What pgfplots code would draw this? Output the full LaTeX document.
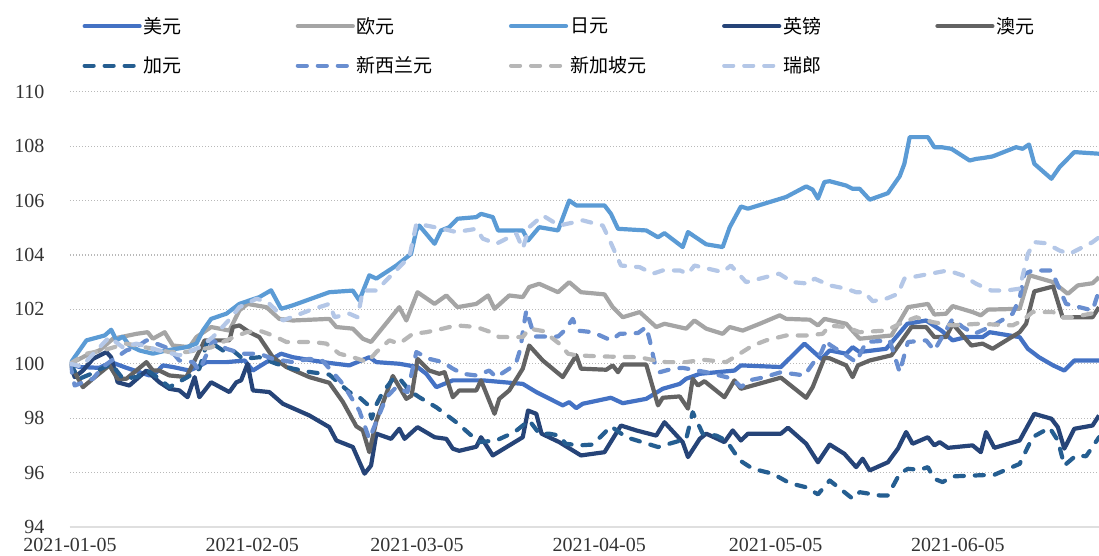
\documentclass[border=0pt]{standalone}
\usepackage{fontspec}
\setmainfont{Liberation Serif}
\newfontfamily\cjk{Noto Sans CJK SC}
\usepackage{pgfplots}
\pgfplotsset{compat=1.18}
\definecolor{cUSD}{HTML}{4472C4}
\definecolor{cEUR}{HTML}{A5A5A5}
\definecolor{cJPY}{HTML}{5B9BD5}
\definecolor{cGBP}{HTML}{264478}
\definecolor{cAUD}{HTML}{636363}
\definecolor{cCAD}{HTML}{255E91}
\definecolor{cNZD}{HTML}{698ED0}
\definecolor{cSGD}{HTML}{B7B7B7}
\definecolor{cCHF}{HTML}{B4C7E7}
\begin{document}
\begin{tikzpicture}
\begin{axis}[
 scale only axis, width=1029pt, height=435.3pt,
 xmin=0, xmax=175, ymin=94, ymax=110,
 ytick={94,96,...,110},
 xtick={0,31,59,90,120,151},
 xticklabels={2021-01-05,2021-02-05,2021-03-05,2021-04-05,2021-05-05,2021-06-05},
 axis line style={draw=none},
 major tick length=0pt,
 ymajorgrids,
 grid style={gray!55, line width=1.2pt, dash pattern=on 1.2pt off 1.8pt},
 extra y ticks={94}, extra y tick labels={},
 extra y tick style={grid style={solid, draw=gray!25, line width=2pt}},
 tick label style={font=\fontsize{20}{24}\selectfont, text=black!80},
 /pgf/number format/assume math mode=true,
 yticklabel shift=22pt,
 xticklabel shift=8pt,
 legend columns=5,
 legend style={draw=none, fill=none, at={(rel axis cs:0.012,1.176)}, anchor=north west, font=\cjk\fontsize{19}{22}\selectfont, column sep=0pt, row sep=18pt, inner sep=0pt},
 legend cell align=left,
 legend image code/.code={\draw[#1, line cap=round] (0pt,0pt) -- (55pt,0pt);},
 every axis plot/.append style={line width=4.2pt, line join=round},
 clip=true,
]
\addplot[cUSD] coordinates {(0,100)(1.6,99.88)(5,99.85)(7,100.06)(9.6,99.85)(11.8,99.69)(13.5,99.57)(14.7,99.69)(15.8,99.94)(17.5,99.88)(20.3,99.75)(21.7,99.88)(23.2,100.06)(26.6,100.06)(29.7,100.12)(31.1,99.75)(33.4,100.06)(35.9,100.37)(37.9,100.24)(41.3,100.12)(44.1,100.03)(47.5,99.94)(50.9,100.24)(52.1,100.06)(56,100.0)(59.1,99.88)(60.6,99.63)(62.3,99.14)(65.1,99.39)(70.2,99.39)(77,99.26)(79.3,98.96)(83.8,98.47)(84.9,98.59)(86.1,98.37)(87.2,98.53)(92,98.75)(94,98.55)(98,98.71)(100.8,99.08)(103.7,99.26)(104.8,99.45)(107.1,99.63)(113,99.75)(114.1,99.94)(120.9,99.88)(124.9,100.74)(127.8,100.18)(129.2,100.49)(132,100.37)(133.1,100.61)(134.3,100.43)(138.8,100.55)(140.5,100.98)(142.4,101.47)(145.6,101.59)(148.2,101.22)(150.1,100.86)(152.4,100.98)(155.2,100.98)(156.4,101.16)(161.5,100.98)(162.9,100.55)(164.8,100.24)(167.2,99.94)(169.1,99.75)(170.8,100.12)(175,100.12)};
\addlegendentry{\makebox[150pt][l]{美元}}
\addplot[cEUR] coordinates {(0,100)(2.8,100.31)(5,100.49)(7.3,100.92)(11.3,101.1)(13.2,101.16)(14.1,100.92)(16.1,101.16)(17.5,100.67)(20.3,100.61)(21.5,100.98)(24,101.35)(27.1,101.22)(28.8,101.96)(30.2,102.2)(33.4,102.08)(35.6,101.65)(37.9,101.59)(44.1,101.65)(45.3,101.35)(48.1,101.29)(49.8,100.92)(51.2,100.8)(56,102.08)(57.2,101.59)(59.1,102.63)(62,102.2)(64,102.51)(65.9,102.08)(69.1,102.2)(71.1,102.51)(72.2,102.02)(74.7,102.51)(77,102.45)(78.1,102.82)(79.8,102.94)(83,102.63)(84.9,103.0)(86.9,102.63)(90.9,102.55)(92.3,102.08)(94,101.71)(96.9,101.9)(99.7,101.35)(101.1,101.47)(104.8,101.29)(106.2,101.59)(108.2,101.29)(111,101.1)(112.2,101.35)(114.4,101.22)(117.3,101.47)(120.7,101.78)(121.8,101.65)(125.8,101.62)(127.2,101.41)(128.3,101.65)(132,101.47)(134.3,100.92)(139.7,101.04)(142.5,102.08)(145.9,102.2)(147,101.81)(149,101.84)(150.1,102.12)(153.5,101.9)(154.9,101.78)(156.1,101.99)(161.5,102.02)(163.2,103.25)(167.2,103.0)(169.7,102.57)(171.4,102.88)(173.9,102.96)(175,103.18)};
\addlegendentry{\makebox[150pt][l]{欧元}}
\addplot[cJPY] coordinates {(0,100)(2.8,100.86)(5.9,101.04)(7,101.25)(7.9,100.86)(9,101.0)(10.1,100.67)(11.8,100.49)(14.1,100.37)(16.4,100.49)(19.8,100.61)(21.5,100.74)(22.6,101.22)(24,101.65)(26.6,101.84)(28.8,102.2)(32.2,102.45)(34.2,102.7)(35.9,102.02)(37.8,102.14)(44.1,102.63)(48.1,102.69)(49.2,102.33)(50.9,103.25)(52.1,103.13)(55.5,103.61)(58,104.04)(58.9,104.9)(59.4,105.08)(62,104.41)(63.1,104.9)(64.5,105.02)(65.9,105.33)(69.1,105.39)(69.9,105.51)(71.9,105.39)(72.8,104.9)(77,104.9)(77.9,104.53)(79.8,105.02)(83,104.9)(84.9,106.0)(86.1,105.82)(90.9,105.82)(92,105.51)(93.2,104.96)(98,104.9)(100,104.65)(101.1,104.8)(104.2,104.29)(105.1,104.84)(108.2,104.39)(111,104.29)(112.2,105.02)(114.1,105.78)(115.3,105.7)(121.8,106.13)(125.2,106.52)(126.3,106.4)(127.2,106.07)(128.3,106.68)(129.2,106.71)(132,106.55)(133.1,106.43)(134.3,106.43)(136,106.03)(139.1,106.27)(141.1,106.89)(141.9,107.35)(142.8,108.33)(145.9,108.33)(147,107.96)(148.2,107.96)(149.9,107.9)(153,107.47)(154.1,107.53)(155.2,107.56)(156.9,107.62)(160.9,107.96)(162,107.9)(163.1,108.06)(164,107.35)(166.9,106.8)(168.3,107.23)(170.8,107.78)(175,107.72)};
\addlegendentry{\makebox[150pt][l]{日元}}
\addplot[cGBP] coordinates {(0,100)(0.8,99.51)(2.2,99.75)(3.9,100.18)(6.2,100.43)(7,100.24)(8.1,99.32)(10.1,99.2)(13,99.75)(15.2,99.32)(16.9,99.08)(18.6,99.02)(20,98.77)(21.2,99.51)(22,98.77)(24,99.32)(27.1,98.96)(28.3,99.32)(29.1,99.39)(30.2,100.0)(31.1,99.02)(33.9,98.96)(36.2,98.53)(40.7,98.1)(44.1,97.67)(45.3,97.18)(48.1,96.94)(50.1,95.96)(51.2,96.26)(52.1,97.43)(54.6,97.24)(56,97.61)(56.9,97.24)(59.1,97.67)(62,97.3)(64,97.24)(65.1,96.88)(66.2,96.8)(69.1,96.95)(69.9,97.3)(71.9,96.63)(77,97.3)(77.9,98.28)(79.3,98.16)(80.2,97.43)(83.2,97.12)(86.9,96.63)(90.9,96.75)(93.7,97.73)(96.3,97.55)(99.7,97.36)(101.1,97.85)(104.2,97.12)(105.1,96.57)(107.1,97.24)(108.2,97.43)(111.3,97.12)(112.7,97.55)(114.1,97.18)(115.3,97.43)(120.9,97.43)(122.1,97.65)(125.2,97.06)(127.2,96.38)(129.2,97.03)(131.7,96.69)(133.7,96.2)(134.8,96.51)(136,96.08)(139.1,96.38)(140.8,96.88)(142.2,97.49)(143.3,97.06)(145.9,97.3)(147,97.0)(147.9,97.12)(149.3,96.91)(153.5,97.0)(154.9,96.75)(155.8,97.49)(157.2,96.91)(161.5,97.18)(164,98.16)(166.9,97.98)(168,97.67)(169.1,96.88)(170.8,97.61)(173.9,97.73)(175,98.1)};
\addlegendentry{\makebox[150pt][l]{英镑}}
\addplot[cAUD] coordinates {(0,100)(2.2,99.14)(3.9,99.45)(6.7,99.94)(8.1,99.45)(9.6,99.45)(13,100.06)(14.1,99.75)(15.2,99.75)(16.9,99.57)(19.8,99.51)(22.9,100.86)(27.1,100.86)(27.7,101.35)(28.8,101.41)(30.5,101.16)(32.2,100.98)(34.5,100.24)(36.8,99.88)(40.7,99.51)(44.1,99.3)(46.4,98.6)(48.7,97.7)(49.8,97.55)(50.9,96.75)(52.1,97.9)(54.9,99.55)(57.2,98.71)(58.1,98.83)(59.1,100.18)(61.1,99.75)(62.8,99.63)(63.7,99.69)(65.1,98.77)(66.2,99.02)(69.1,99.02)(69.9,99.39)(72.2,98.16)(73,98.71)(74.7,99.02)(77,99.82)(78.1,100.67)(80.4,100.12)(83.8,99.51)(86.1,100.31)(86.9,99.82)(91.2,99.78)(92.3,99.94)(93.2,99.69)(94,99.97)(98,99.97)(100,98.47)(100.8,98.75)(103.7,98.8)(105.1,98.35)(105.9,99.45)(106.8,99.2)(107.9,99.36)(111.3,98.77)(113,99.39)(114.1,99.08)(120.9,99.49)(125.2,98.75)(126.3,99.14)(128.3,100.22)(129.2,100.2)(132,99.94)(133.1,99.51)(134,99.94)(136,100.12)(139.7,100.31)(143.1,101.35)(145.6,101.35)(147,100.98)(149,100.98)(150.1,101.47)(153.3,100.67)(155.2,100.74)(156.9,100.55)(161.5,101.16)(162.6,101.47)(164,102.66)(167.2,102.84)(168.8,101.71)(173.9,101.71)(175,102.08)};
\addlegendentry{\makebox[150pt][l]{澳元}}
\addplot[cCAD, dash pattern=on 9pt off 11pt, line cap=round] coordinates {(0,100)(1.6,99.45)(3.6,99.63)(7,100)(9,99.45)(11.3,99.51)(13.2,99.75)(15.2,99.45)(16.9,99.14)(20,99.51)(22,99.82)(23.4,100.86)(26,100.49)(27.7,100.49)(29.4,100.18)(32.2,100.24)(35.1,100)(37.9,99.82)(40.7,99.7)(44.1,99.6)(47.5,98.96)(49.2,98.77)(50.6,98.5)(51.3,97.98)(52.1,98.5)(53.2,98.96)(55.2,99.51)(56.3,99.39)(57.7,99.02)(59.4,98.77)(62.3,98.4)(65.7,97.85)(67.9,97.43)(69.6,97.12)(72.5,97.18)(75.6,97.49)(78.1,97.92)(79.8,97.43)(81.5,97.43)(83.2,97.36)(84.3,97.06)(86.6,97.0)(88.9,97.03)(92,97.7)(94.6,97.3)(100,96.94)(104.8,97.24)(105.9,98.22)(107.6,97.43)(109.9,97.36)(111.6,97.18)(113.9,96.45)(116.1,96.14)(119.5,95.96)(122.4,95.61)(125.2,95.46)(127.2,95.2)(129.2,95.71)(133.1,95.04)(134.3,95.28)(137.7,95.16)(139.1,95.16)(141.1,95.96)(142.5,96.14)(144.5,96.1)(145.9,96.2)(147,95.77)(148.4,95.65)(150.1,95.86)(154.6,95.9)(157.2,95.92)(161.5,96.32)(163.7,97.3)(166.6,97.65)(168,97.18)(169.1,96.26)(171.1,96.63)(172.8,96.6)(175,97.3)};
\addlegendentry{\makebox[150pt][l]{加元}}
\addplot[cNZD, dash pattern=on 9pt off 11pt, line cap=round] coordinates {(0,100)(0.8,99.2)(3.9,99.45)(5.6,99.88)(6.7,100.06)(9.6,100.49)(11.3,100.61)(13,100.86)(14.7,100.74)(16.9,100.55)(18.6,100.12)(20.9,100.06)(22,99.75)(24.3,100.86)(26.6,100.55)(29.4,100.37)(32.2,100.37)(34.5,100.18)(37.9,100.06)(40.7,100.18)(43,100.1)(46.4,99.26)(49.2,98.28)(50.9,97.24)(53.8,98.77)(55.5,99.14)(57.4,98.96)(58.9,100.43)(61.1,100.18)(63.4,100.06)(65.1,99.82)(66.8,99.63)(69.1,99.57)(71.3,99.75)(72.5,99.51)(74.7,99.82)(75.9,100.06)(76.6,100.55)(77,101.16)(77.6,101.96)(79,101.0)(83,101.0)(84.1,101.22)(85.5,101.65)(86.3,101.22)(88.9,101.16)(92,100.86)(93.5,101.1)(96.6,101.13)(98,101.35)(98.6,100.86)(99.4,100.06)(100.3,99.69)(102.5,99.82)(104.2,99.85)(108.2,99.69)(110.5,99.57)(112.7,99.45)(114.1,99.14)(115.5,99.39)(117.8,99.49)(120.9,99.69)(124.9,99.57)(126.3,100.0)(127.8,100.43)(128.6,100.86)(129.2,100.7)(132,100.31)(133.7,100.06)(135.4,100.8)(139.4,100.86)(141.1,99.69)(142.5,100.8)(145.6,100.86)(147,100.49)(150.1,101.65)(151.8,101.35)(153.8,101.1)(155.8,101.29)(157.5,101.47)(160.3,101.84)(161.5,102.4)(162.3,103.3)(163.7,103.43)(166.9,103.43)(169.4,102.2)(173.9,101.96)(175,102.69)};
\addlegendentry{\makebox[150pt][l]{新西兰元}}
\addplot[cSGD, dash pattern=on 9pt off 11pt, line cap=round] coordinates {(0,100)(2.8,100.37)(5.6,100.49)(9.6,100.74)(14.1,100.55)(16.9,100.43)(19.8,100.43)(24,100.6)(27,100.9)(30,101.16)(32.2,101.22)(34.5,101.04)(36.8,100.8)(41.3,100.8)(43.6,100.74)(45.8,100.37)(48.1,100.24)(50.6,100.06)(52.1,100.43)(54.3,100.86)(56,100.74)(58.3,101.1)(60.6,101.16)(63.4,101.29)(65.7,101.41)(69.1,101.35)(71.6,101.16)(73,100.98)(77,100.98)(78.1,101.29)(80.5,101.2)(83.2,100.74)(84.7,100.37)(86.1,100.31)(90.1,100.27)(96.9,100.24)(99.4,100.12)(101.4,100.06)(104.8,100.06)(107.6,100.15)(111.6,100.06)(113.9,100.37)(116.1,100.67)(118.4,100.86)(121.8,101.04)(125.2,101.04)(128,101.1)(129.2,101.4)(132,101.35)(134.3,101.16)(138.8,101.22)(141.1,101.47)(143.9,101.71)(146.7,101.53)(150.1,101.41)(154.6,101.47)(160.3,101.41)(162,101.59)(163.7,101.9)(167.2,101.9)(168.3,101.71)(170.5,101.71)(175,101.9)};
\addlegendentry{\makebox[150pt][l]{新加坡元}}
\addplot[cCHF, dash pattern=on 9pt off 11pt, line cap=round] coordinates {(0,100)(2,99.9)(4.5,100.49)(6.7,100.98)(9,100.6)(11.3,100.74)(15,100.5)(18.6,100.31)(22,100.6)(24.3,100.98)(27,101.6)(28.8,102.08)(30,102.2)(31.7,102.39)(33.6,102.27)(34.8,102.02)(36.2,101.59)(40.7,101.96)(44.1,102.2)(45,101.71)(47.5,101.84)(48.9,101.71)(49.8,102.69)(52.1,102.69)(54.9,103.31)(57.7,103.92)(58.9,105.14)(60.6,105.08)(63.4,104.96)(65.7,104.84)(69.1,104.96)(70.2,104.6)(72.5,104.41)(75.9,104.78)(77,104.23)(78.1,105.02)(80.4,105.45)(83.2,105.08)(87.2,105.27)(90.6,105.08)(91.8,104.53)(93.7,103.61)(96.9,103.55)(99.1,103.31)(100.8,103.43)(103.7,103.43)(105.1,103.31)(106.2,103.61)(111,103.37)(112.4,103.61)(115,103.0)(120.6,103.31)(122.9,103.0)(125.8,102.94)(126.6,103.13)(128.6,102.94)(129.2,102.88)(132,102.76)(133.7,102.63)(135.1,102.63)(136.5,102.3)(138.8,102.39)(140.8,102.57)(141.9,103.13)(149.3,103.43)(151.8,103.25)(154.1,102.94)(156.7,102.69)(159.2,102.69)(161.5,102.76)(162.9,104.04)(164,104.47)(166,104.43)(168.3,104.16)(170,104.04)(173.9,104.47)(175,104.65)};
\addlegendentry{\makebox[150pt][l]{瑞郎}}
\end{axis}
\pgfresetboundingbox
\path[use as bounding box] (-70pt,-29pt) rectangle (1029pt,527pt);
\end{tikzpicture}
\end{document}
